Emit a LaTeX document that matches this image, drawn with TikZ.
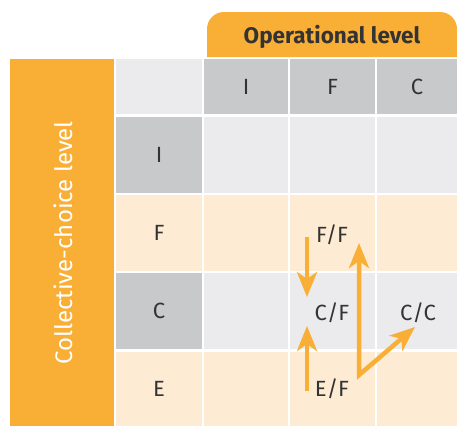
\documentclass[tikz,border=0pt]{standalone}
\usepackage{fontspec}
\setmainfont{Fira Sans}
\usetikzlibrary{arrows.meta,calc}
\definecolor{orng}{HTML}{F9AE35}
\definecolor{dgray}{HTML}{C8C9CB}
\definecolor{lgray}{HTML}{EBEBED}
\definecolor{lorng}{HTML}{FDEBD3}
\definecolor{txt}{HTML}{333333}
\begin{document}
\begin{tikzpicture}[x=1pt,y=-1pt,
  cell/.style={anchor=north west,inner sep=0pt,outer sep=0pt,draw=none,font=\fontsize{22}{26}\selectfont,text=txt},
  lbl/.style={inner sep=0pt,font=\fontsize{22}{26}\selectfont,text=txt},
  arr/.style={draw=orng,line width=4.5pt,-{Stealth[length=25pt,width=20pt,inset=7pt]}},
  arrb/.style={draw=orng,line width=4.5pt,{Stealth[length=25pt,width=20pt,inset=7pt]}-{Stealth[length=25pt,width=20pt,inset=7pt]}}
]
\useasboundingbox (0,0) rectangle (457,426);
% header tab
\fill[orng] (207,57) [rounded corners=17pt] -- (207,12) -- (457,12) [sharp corners] -- (457,57) -- cycle;
\node[font=\bfseries\fontsize{22.5}{26}\selectfont,text=txt] (op) at (332,37) {Operational level};
% left bar
\fill[orng] (10,59) rectangle (114,426);
\node[rotate=90,font=\fontsize{24}{28}\selectfont,text=white] (cc-lbl) at (63,243) {Collective-choice level};
% row 0
\node[cell,fill=lgray,minimum width=86,minimum height=55] (r0c0) at (116,59) {};
\node[cell,fill=dgray,minimum width=84,minimum height=55] (r0c1) at (204,59) {I};
\node[cell,fill=dgray,minimum width=85,minimum height=55] (r0c2) at (290,59) {F};
\node[cell,fill=dgray,minimum width=80,minimum height=55] (r0c3) at (377,59) {C};
% row 1
\node[cell,fill=dgray,minimum width=86,minimum height=76] (r1c0) at (116,117) {I};
\node[cell,fill=lgray,minimum width=84,minimum height=76] (r1c1) at (204,117) {};
\node[cell,fill=lgray,minimum width=85,minimum height=76] (r1c2) at (290,117) {};
\node[cell,fill=lgray,minimum width=80,minimum height=76] (r1c3) at (377,117) {};
% row 2
\node[cell,fill=lorng,minimum width=86,minimum height=76] (r2c0) at (116,195) {F};
\node[cell,fill=lorng,minimum width=84,minimum height=76] (r2c1) at (204,195) {};
\node[cell,fill=lorng,minimum width=85,minimum height=76] (r2c2) at (290,195) {};
\node[cell,fill=lorng,minimum width=80,minimum height=76] (r2c3) at (377,195) {};
% row 3
\node[cell,fill=dgray,minimum width=86,minimum height=76] (r3c0) at (116,273) {C};
\node[cell,fill=lgray,minimum width=84,minimum height=76] (r3c1) at (204,273) {};
\node[cell,fill=lgray,minimum width=85,minimum height=76] (r3c2) at (290,273) {};
\node[cell,fill=lgray,minimum width=80,minimum height=76] (r3c3) at (377,273) {};
% row 4
\node[cell,fill=lorng,minimum width=86,minimum height=74] (r4c0) at (116,352) {E};
\node[cell,fill=lorng,minimum width=84,minimum height=74] (r4c1) at (204,352) {};
\node[cell,fill=lorng,minimum width=85,minimum height=74] (r4c2) at (290,352) {};
\node[cell,fill=lorng,minimum width=80,minimum height=74] (r4c3) at (377,352) {};
% inner labels
\node[lbl] (ff) at (332,235) {F/F};
\node[lbl] (cf) at (332,313) {C/F};
\node[lbl] (ccl) at (418,313) {C/C};
\node[lbl] (ef) at (332,389) {E/F};
% arrow end points
\coordinate (a1s) at (307,237);
\coordinate (a1e) at (307,297);
\coordinate (a2s) at (307,391);
\coordinate (a2e) at (307,326);
\coordinate (a3t) at (359,243);
\coordinate (a3c) at (359,375);
\coordinate (a3e) at (415,327);
\draw[arr] (a1s) -- (a1e);
\draw[arr] (a2s) -- (a2e);
\draw[arrb] (a3t) -- (a3c) -- (a3e);
\end{tikzpicture}
\end{document}
